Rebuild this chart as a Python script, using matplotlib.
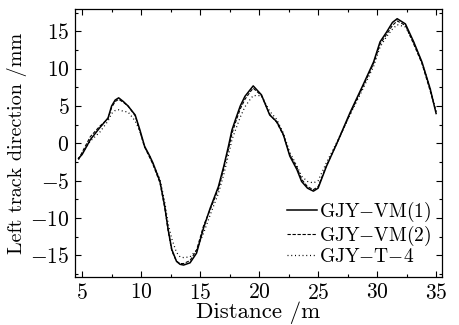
import matplotlib
matplotlib.use("Agg")
import matplotlib.pyplot as plt
from matplotlib.ticker import MultipleLocator

plt.rcParams['font.family'] = 'serif'
plt.rcParams['font.serif'] = ['cmr10', 'DejaVu Serif']
plt.rcParams['mathtext.fontset'] = 'cm'
plt.rcParams['axes.formatter.use_mathtext'] = True

# distance (m)
dist = [4.7, 5.0, 5.7, 6.5, 7.2, 7.5, 7.8, 8.1, 8.5, 8.9, 9.5, 9.9, 10.3, 10.7, 11.0,
        11.6, 12.0, 12.3, 12.6, 13.0, 13.3, 13.6, 14.15, 14.7, 15.3, 15.85, 16.55, 17.0,
        17.4, 17.7, 18.0, 18.4, 18.8, 19.2, 19.5, 20.2, 20.9, 21.5, 22.05, 22.6, 23.2,
        23.6, 24.1, 24.6, 25.0, 25.7, 26.6, 27.7, 28.8, 29.7, 30.25, 30.8, 31.3, 31.7,
        32.4, 33.1, 33.8, 34.5, 35.0]

vm1 = [-2.0, -1.5, 0.5, 2.1, 3.4, 5.0, 5.8, 6.1, 5.6, 5.0, 3.8, 1.8, -0.4, -1.6, -2.6,
       -5.1, -8.4, -11.6, -14.2, -15.8, -16.2, -16.3, -16.0, -14.7, -11.3, -8.7, -5.8, -3.1,
       -0.4, 1.8, 3.2, 5.0, 6.3, 7.1, 7.7, 6.5, 3.8, 2.9, 1.2, -1.7, -3.5,
       -5.1, -6.0, -6.4, -6.0, -3.1, 0.05, 4.1, 7.8, 10.9, 13.6, 14.9, 16.2, 16.7,
       16.0, 13.6, 10.9, 7.3, 4.0]

vm2 = [-2.2, -1.2, 0.9, 2.3, 3.3, 4.8, 5.6, 5.9, 5.5, 5.0, 3.7, 1.6, -0.5, -1.8, -2.8,
       -5.3, -8.6, -11.8, -14.4, -15.8, -16.1, -16.1, -15.7, -14.3, -11.0, -8.9, -6.1, -3.4,
       -0.8, 1.3, 2.8, 4.6, 5.9, 6.8, 7.4, 6.4, 3.9, 2.8, 1.1, -1.5, -3.2,
       -4.8, -5.8, -6.2, -5.8, -3.0, 0.0, 3.9, 7.6, 10.7, 13.3, 14.6, 15.8, 16.4,
       15.8, 13.3, 10.7, 7.0, 4.2]

t4 = [-2.0, -1.4, 0.3, 1.5, 3.0, 4.0, 4.4, 4.5, 4.3, 4.2, 3.0, 1.6, -0.5, -1.6, -2.7,
      -4.8, -7.8, -10.8, -12.8, -14.6, -15.2, -15.3, -15.2, -14.3, -12.0, -9.6, -6.7, -4.2,
      -1.6, 0.5, 1.8, 3.5, 4.9, 5.8, 6.4, 6.4, 4.3, 3.2, 1.4, -1.2, -3.0,
      -4.4, -5.1, -5.3, -5.0, -2.6, 0.2, 3.8, 7.3, 10.3, 12.9, 14.3, 15.3, 15.9,
      15.6, 13.5, 10.8, 7.4, 4.2]

labels = [r'$\mathrm{GJY{-}VM(1)}$', r'$\mathrm{GJY{-}VM(2)}$', r'$\mathrm{GJY{-}T{-}4}$']

fig = plt.figure(figsize=(4.59, 3.25), dpi=100)
ax = fig.add_axes([0.1634, 0.1477, 0.7996, 0.8246])

ax.plot(dist, vm1, color='black', lw=1.1, ls='-', label=labels[0])
ax.plot(dist, vm2, color='black', lw=0.8, ls=(0, (3, 1.5)), label=labels[1])
ax.plot(dist, t4, color='black', lw=0.9, ls=(0, (0.8, 2.2)), label=labels[2])

ax.set_xlim(4.4, 35.5)
ax.set_ylim(-17.9, 18.0)
ax.xaxis.set_major_locator(MultipleLocator(5))
ax.xaxis.set_minor_locator(MultipleLocator(2.5))
ax.yaxis.set_major_locator(MultipleLocator(5))
ax.yaxis.set_minor_locator(MultipleLocator(2.5))
ax.tick_params(which='both', direction='in', top=True, right=True, labelsize=15.5, width=0.8)
ax.tick_params(which='major', length=4, pad=4)
ax.tick_params(which='minor', length=2.5)
for s in ax.spines.values():
    s.set_linewidth(0.9)

ax.set_xlabel('Distance /m', fontsize=16.5, labelpad=-1)
ax.set_ylabel('Left track direction /mm', fontsize=14.5, labelpad=2)

ax.legend(loc='lower right', frameon=False, fontsize=14, handlelength=1.55,
          handletextpad=0.1, labelspacing=0.0, borderaxespad=0.15)

fig.savefig('out.png', dpi=100)
